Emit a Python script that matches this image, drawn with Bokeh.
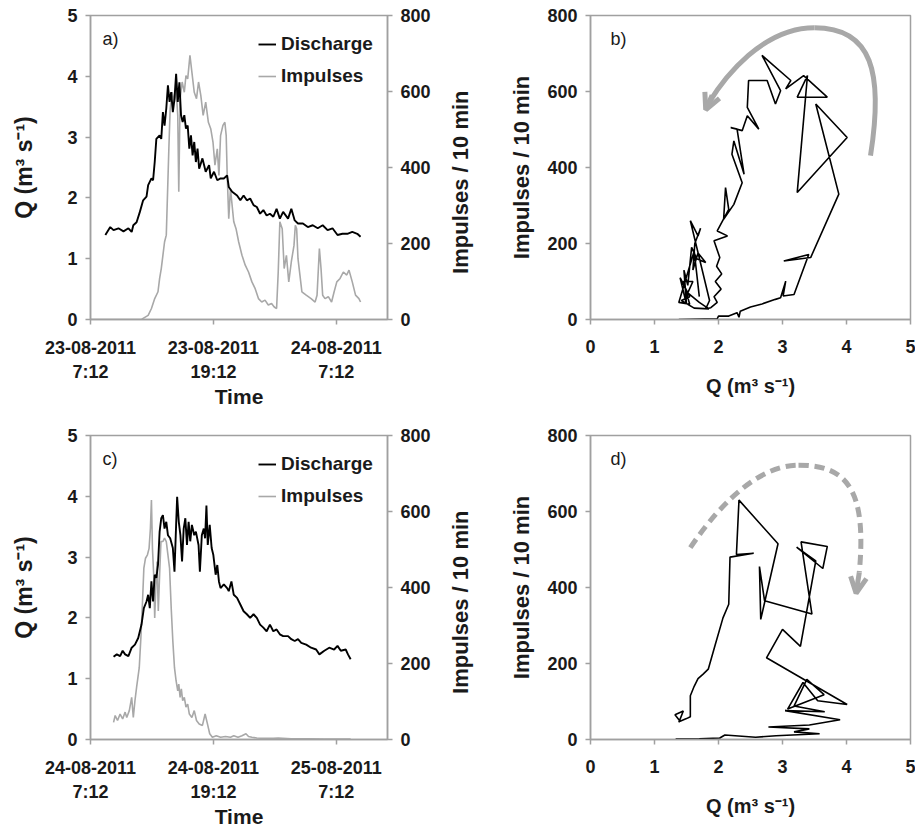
import math
from bokeh.plotting import figure
from bokeh.models import (Range1d, LinearAxis, FixedTicker, Legend, LegendItem,
                          Label, Arrow, OpenHead)
from bokeh.layouts import column, row
from bokeh.embed import file_html
from bokeh.resources import INLINE

# ---------------- data ----------------
# Panel a: hours after 23-08-2011 7:12
a_q_h = [1.45, 1.93, 2.25, 2.73, 3.22, 3.70, 4.02, 4.18, 4.50, 4.82, 5.14, 5.47, 5.63, 5.95, 6.11, 6.27,
         6.43, 6.75, 6.91, 7.07, 7.23, 7.40, 7.56, 7.72, 7.88, 8.04, 8.20, 8.36, 8.52, 8.68, 8.84, 9.00,
         9.16, 9.32, 9.49, 9.65, 9.81, 9.97, 10.13, 10.29, 10.45, 10.61, 10.93, 11.25, 11.58, 11.74,
         12.06, 12.38, 12.70, 13.02, 13.34, 13.50, 13.83, 14.31, 14.63, 14.95, 15.27, 15.59, 15.92,
         16.24, 16.56, 16.88, 17.20, 17.52, 17.85, 18.17, 18.49, 18.81, 19.29, 19.61, 19.94, 20.26,
         20.74, 21.22, 21.70, 22.19, 22.67, 23.15, 23.63, 24.12, 24.60, 25.08, 25.56, 26.05, 26.37]
a_q = [1.39, 1.52, 1.47, 1.50, 1.45, 1.50, 1.44, 1.55, 1.60, 1.77, 1.96, 2.02, 2.21, 2.32, 2.29, 2.59,
       2.97, 3.03, 2.97, 3.41, 3.19, 3.47, 3.85, 3.58, 3.74, 3.41, 3.63, 4.04, 3.58, 3.90, 3.36, 3.25,
       3.36, 3.14, 3.19, 2.81, 3.03, 2.70, 2.92, 2.59, 2.81, 2.48, 2.65, 2.43, 2.54, 2.32,
       2.43, 2.29, 2.32, 2.32, 2.37, 2.18, 2.10, 2.04, 1.96, 2.04, 1.96, 1.99, 1.88,
       1.85, 1.74, 1.80, 1.71, 1.74, 1.69, 1.82, 1.66, 1.77, 1.66, 1.82, 1.63, 1.58,
       1.58, 1.52, 1.55, 1.50, 1.55, 1.47, 1.50, 1.39, 1.41, 1.41, 1.44, 1.41, 1.36]
a_i_h = [0.0, 5.0, 5.14, 5.63, 5.95, 6.27, 6.59, 6.75, 6.91, 7.07, 7.23, 7.40, 7.65, 7.78, 7.97, 8.20,
         8.36, 8.52, 8.62, 8.75, 8.95, 9.16, 9.32, 9.49, 9.71, 9.90, 10.13, 10.35, 10.55, 10.77, 11.00,
         11.25, 11.51, 11.74, 11.96, 12.15, 12.38, 12.54, 12.70, 12.93, 13.12, 13.25, 13.34, 13.50,
         13.67, 13.83, 13.99, 14.21, 14.47, 14.79, 15.11, 15.43, 15.76, 16.08, 16.40, 16.72, 17.04,
         17.36, 17.68, 17.94, 18.17, 18.33, 18.49, 18.72, 18.91, 19.13, 19.36, 19.61, 19.87, 20.00,
         20.13, 20.26, 20.45, 20.64, 21.06, 21.54, 21.93, 22.12, 22.35, 22.51, 22.67, 22.90, 23.22,
         23.54, 23.79, 24.05, 24.37, 24.69, 25.02, 25.24, 25.56, 25.88, 26.21, 26.37]
a_imp = [0, 0, 3, 11, 29, 55, 73, 108, 134, 169, 204, 222, 449, 555, 598, 572,
         607, 537, 336, 581, 625, 598, 642, 633, 695, 651, 598, 581, 625, 590, 537,
         572, 519, 502, 467, 406, 449, 379, 484, 511, 519, 484, 388, 265,
         344, 300, 257, 239, 204, 169, 143, 125, 99, 81, 55, 46, 51,
         38, 42, 33, 29, 125, 257, 239, 134, 169, 99, 152, 195, 248,
         239, 160, 117, 73, 64, 55, 46, 64, 187, 134, 64, 55, 60,
         46, 73, 99, 108, 125, 117, 130, 99, 64, 55, 46]

# Panel c: hours after 24-08-2011 7:12
c_q_h = [2.25, 2.57, 2.89, 3.14, 3.38, 3.70, 4.02, 4.34, 4.66, 4.98, 5.21, 5.47, 5.63, 5.79, 5.95, 6.11,
         6.27, 6.43, 6.59, 6.75, 6.91, 7.07, 7.23, 7.40, 7.56, 7.78, 8.04, 8.20, 8.36, 8.46, 8.62, 8.78,
         8.94, 9.10, 9.26, 9.42, 9.58, 9.74, 9.90, 10.13, 10.29, 10.55, 10.68, 10.87, 11.06, 11.19,
         11.32, 11.45, 11.64, 11.83, 11.99, 12.22, 12.38, 12.54, 12.70, 13.02, 13.34, 13.50, 13.76,
         13.99, 14.31, 14.63, 14.95, 15.27, 15.59, 15.92, 16.24, 16.56, 16.88, 17.20, 17.52, 17.85,
         18.17, 18.49, 18.81, 19.29, 19.61, 19.94, 20.26, 20.58, 21.06, 21.54, 22.03, 22.35, 22.83,
         23.31, 23.79, 24.12, 24.44, 24.92, 25.14, 25.40]
c_q = [1.36, 1.40, 1.37, 1.46, 1.40, 1.37, 1.51, 1.56, 1.67, 1.89, 2.16, 2.27, 2.38, 2.16, 2.60, 2.27,
       2.71, 2.66, 2.87, 3.42, 3.64, 3.69, 3.47, 3.58, 3.36, 3.31, 3.15, 2.76, 3.53, 3.99, 3.58, 3.36,
       2.93, 3.47, 3.64, 3.20, 3.58, 3.26, 3.53, 3.36, 3.42, 3.20, 2.76, 3.36, 3.47, 3.31,
       3.85, 3.20, 3.53, 3.15, 3.04, 2.71, 2.87, 2.60, 2.49, 2.55, 2.49, 2.44, 2.60,
       2.38, 2.33, 2.22, 2.11, 2.06, 2.00, 2.06, 2.00, 1.89, 1.84, 1.78, 1.89, 1.78,
       1.81, 1.73, 1.70, 1.70, 1.65, 1.62, 1.65, 1.59, 1.56, 1.51, 1.48, 1.40, 1.46,
       1.51, 1.48, 1.54, 1.46, 1.48, 1.40, 1.32]
c_i_h = [2.25, 2.41, 2.64, 2.89, 3.14, 3.38, 3.54, 3.79, 4.02, 4.18, 4.34, 4.50, 4.76, 4.92, 5.08, 5.21,
         5.37, 5.56, 5.72, 5.85, 5.95, 6.05, 6.17, 6.27, 6.37, 6.50, 6.62, 6.75, 6.88, 7.07, 7.23, 7.40,
         7.56, 7.72, 7.88, 8.04, 8.20, 8.36, 8.52, 8.62, 8.75, 8.87, 9.00, 9.16, 9.32, 9.49, 9.65, 9.90,
         10.13, 10.35, 10.61, 10.93, 11.19, 11.42, 11.64, 11.90, 12.28, 12.70, 13.18, 13.67, 13.99,
         14.40, 14.79, 15.18, 15.43, 15.76, 16.24, 17.04, 17.85, 18.33, 19.61, 21.22, 22.83, 25.40]
c_imp = [45, 63, 50, 67, 54, 72, 58, 76, 111, 58, 102, 137, 189, 268, 364, 451,
         477, 486, 503, 556, 630, 503, 434, 320, 399, 468, 338, 434, 521, 521, 530, 521,
         486, 451, 346, 259, 189, 154, 128, 146, 111, 133, 102, 111, 85, 93, 67, 58,
         76, 50, 41, 37, 67, 41, 15, 6, 10, 6, 8, 6, 10,
         6, 10, 15, 8, 6, 4, 3, 3, 4, 2, 2, 1, 1]

# Panel b: hysteresis 23-24 Aug (Q, impulses)
b_q = [1.38, 1.98, 2.00, 2.16, 2.29, 2.32, 2.34, 2.50, 2.68, 2.89, 2.97, 3.05, 3.01, 3.18, 3.41, 3.02,
       3.44, 3.88, 3.52, 4.01, 3.23, 3.39, 3.23, 3.70, 3.33, 3.05, 3.13, 2.68, 2.97, 2.89, 2.76, 2.47,
       2.45, 2.63, 2.45, 2.37, 2.19, 2.29, 2.40, 2.24, 2.21, 2.37, 2.24, 2.08, 2.11, 2.16, 1.98, 2.14,
       1.93, 2.02, 1.97, 2.05, 1.95, 2.04, 1.93, 1.98, 1.88, 1.80, 1.86, 1.56, 1.68, 1.72, 1.63, 1.60,
       1.68, 1.80, 1.66, 1.58, 1.52, 1.46, 1.50, 1.40, 1.55, 1.42, 1.62, 1.85, 1.70, 1.52, 1.60, 1.45,
       1.55, 1.38, 1.62, 1.70]
b_imp = [0, 2, 9, 9, 18, 6, 22, 33, 41, 53, 57, 101, 62, 66, 171, 154,
         163, 330, 567, 479, 334, 642, 585, 585, 642, 607, 629, 695, 602, 567, 629, 629,
         558, 501, 536, 497, 505, 501, 382, 470, 435, 360, 303, 264, 347, 290, 233, 220,
         207, 163, 140, 120, 100, 80, 60, 45, 31, 28, 50, 260, 220, 240, 200, 130,
         175, 150, 160, 190, 90, 130, 40, 110, 60, 50, 30, 28, 45, 70, 100, 100,
         40, 45, 180, 60]

# Panel d: hysteresis 24-25 Aug (Q, impulses)
d_q = [1.38, 1.45, 1.32, 1.40, 1.50, 1.56, 1.56, 1.62, 1.68, 1.76, 1.84, 1.95, 2.07, 2.16, 2.18, 2.55,
       2.28, 2.32, 2.93, 2.66, 2.64, 2.72, 3.46, 3.29, 3.70, 3.63, 3.22, 3.52, 3.28, 3.00, 2.75, 4.01,
       3.55, 3.32, 3.08, 3.65, 3.38, 3.18, 3.66, 3.04, 3.90, 3.42, 2.78, 3.42, 3.18, 3.58, 2.90, 2.58,
       2.10, 2.02, 1.70, 1.33]
d_imp = [45, 75, 65, 48, 55, 60, 115, 140, 160, 172, 185, 250, 320, 356, 480, 490,
         487, 630, 515, 316, 455, 365, 330, 520, 508, 450, 506, 470, 245, 290, 215, 92,
         102, 150, 80, 118, 158, 88, 73, 76, 52, 38, 33, 28, 20, 15, 10, 6,
         12, 4, 2, 1]

# hysteresis direction arrows (two cubic segments each)
arrow_b_x0 = [4.375, 3.5]
arrow_b_y0 = [431, 768]
arrow_b_cx0 = [4.58, 2.7]
arrow_b_cy0 = [650, 768]
arrow_b_cx1 = [4.4, 2.1]
arrow_b_cy1 = [768, 640]
arrow_b_x1 = [3.5, 1.84]
arrow_b_y1 = [768, 568]
arrow_b_head = [1.9, 590, 1.8, 552]

arrow_d_x0 = [1.56, 3.25]
arrow_d_y0 = [505, 722]
arrow_d_cx0 = [2.1, 4.0]
arrow_d_cy0 = [640, 722]
arrow_d_cx1 = [2.7, 4.32]
arrow_d_cy1 = [722, 660]
arrow_d_x1 = [3.25, 4.2]
arrow_d_y1 = [722, 440]
arrow_d_head = [4.2, 440, 4.15, 385]

time_ticks = [0, 12, 24]
labels_a = ["23-08-2011\n7:12", "23-08-2011\n19:12", "24-08-2011\n7:12"]
labels_c = ["24-08-2011\n7:12", "24-08-2011\n19:12", "25-08-2011\n7:12"]
q_ticks = [0, 1, 2, 3, 4, 5]
imp_ticks = [0, 200, 400, 600, 800]
imp_title_anchor = 120   # right-axis title starts here and reads upward

# ---------------- styling ----------------
FONT = "Liberation Sans"
AXIS_GRAY = "#a0a0a0"
SERIES_GRAY = "#a8a8a8"
TXT = "#1a1a1a"
Q_LABEL = "Q (m\u00b3 s\u207b\u00b9)"
IMP_LABEL = "Impulses / 10 min"


def style_axis(ax, ticks, title, title_size, title_style, standoff, label_standoff):
    ax.ticker = FixedTicker(ticks=ticks)
    ax.axis_line_color = AXIS_GRAY
    ax.axis_line_width = 1.5
    ax.major_tick_line_color = AXIS_GRAY
    ax.major_tick_line_width = 1.5
    ax.major_tick_in = 0
    ax.major_tick_out = 5
    ax.minor_tick_line_color = None
    ax.major_label_text_font = FONT
    ax.major_label_text_font_size = "18px"
    ax.major_label_text_font_style = "bold"
    ax.major_label_text_color = TXT
    ax.major_label_standoff = label_standoff
    ax.axis_label = title
    ax.axis_label_text_font = FONT
    ax.axis_label_text_font_size = title_size
    ax.axis_label_text_font_style = title_style
    ax.axis_label_text_color = TXT
    ax.axis_label_standoff = standoff


def base_fig(width, height, left, right, bottom, xr, yr):
    p = figure(width=width, height=height, x_range=xr, y_range=yr,
               output_backend="svg", toolbar_location=None, tools="",
               min_border_left=left, min_border_right=right,
               min_border_top=15, min_border_bottom=bottom,
               x_axis_location=None, y_axis_location=None)
    p.grid.visible = False
    p.outline_line_color = AXIS_GRAY
    p.outline_line_width = 1.5
    p.background_fill_color = "white"
    p.border_fill_color = "white"
    return p


def time_panel(height, bottom, qh, q, ih, imp, tick_labels, letter):
    p = base_fig(488, height, 90, 96, bottom, Range1d(0, 29), Range1d(0, 5))
    p.extra_y_ranges = {"imp": Range1d(0, 800)}
    xa = LinearAxis()
    style_axis(xa, time_ticks, "Time", "21px", "bold", 0, 13)
    xa.major_label_overrides = {t: l for t, l in zip(time_ticks, tick_labels)}
    p.add_layout(xa, "below")
    ya = LinearAxis()
    style_axis(ya, q_ticks, Q_LABEL, "23px", "bold", 27, 8)
    p.add_layout(ya, "left")
    yr = LinearAxis(y_range_name="imp")
    style_axis(yr, imp_ticks, None, "21px", "bold", 0, 8)
    p.add_layout(yr, "right")
    # right-axis title reading bottom-to-top (as a rotated single tick label)
    yt = LinearAxis(y_range_name="imp")
    style_axis(yt, [imp_title_anchor], None, "21px", "bold", 0, 27)
    yt.major_label_overrides = {imp_title_anchor: IMP_LABEL}
    yt.major_label_orientation = math.pi / 2
    yt.major_label_text_font_size = "22px"
    yt.axis_line_color = None
    yt.major_tick_line_color = None
    yt.major_tick_out = 0
    p.add_layout(yt, "right")

    r_imp = p.line(ih, imp, y_range_name="imp", line_color=SERIES_GRAY, line_width=1.6)
    r_q = p.line(qh, q, line_color="black", line_width=1.9)

    leg = Legend(items=[LegendItem(label="Discharge", renderers=[r_q]),
                        LegendItem(label="Impulses", renderers=[r_imp])],
                 location=(168, 232), border_line_color=None, background_fill_alpha=0,
                 padding=0, margin=0, glyph_width=18, glyph_height=20, label_height=20,
                 spacing=10, label_standoff=5, label_text_font=FONT,
                 label_text_font_size="19px", label_text_font_style="bold",
                 label_text_color=TXT)
    p.add_layout(leg)
    p.add_layout(Label(x=12, y=281, x_units="screen", y_units="screen", text=letter,
                       text_font=FONT, text_font_size="18px", text_color=TXT,
                       text_baseline="middle"))
    return p


def loop_panel(height, bottom, q, imp, ax0, ay0, acx0, acy0, acx1, acy1, ax1, ay1, head,
               dash, letter):
    p = base_fig(427, height, 102, 5, bottom, Range1d(0, 5), Range1d(0, 800))
    xa = LinearAxis()
    style_axis(xa, q_ticks, Q_LABEL, "20px", "bold", 19, 15)
    p.add_layout(xa, "below")
    ya = LinearAxis()
    style_axis(ya, imp_ticks, IMP_LABEL, "22px", "bold", 10, 8)
    p.add_layout(ya, "left")

    p.bezier(x0=ax0, y0=ay0, x1=ax1, y1=ay1, cx0=acx0, cy0=acy0, cx1=acx1, cy1=acy1,
             line_color=SERIES_GRAY, line_width=5, line_dash=dash, line_cap="butt")
    p.add_layout(Arrow(end=OpenHead(size=16, line_color=SERIES_GRAY, line_width=5),
                       x_start=head[0], y_start=head[1], x_end=head[2], y_end=head[3],
                       line_color=SERIES_GRAY, line_width=5))
    p.line(q, imp, line_color="black", line_width=1.6)
    p.add_layout(Label(x=20, y=281, x_units="screen", y_units="screen", text=letter,
                       text_font=FONT, text_font_size="18px", text_color=TXT,
                       text_baseline="middle"))
    return p


pa = time_panel(420, 101, a_q_h, a_q, a_i_h, a_imp, labels_a, "a)")
pb = loop_panel(420, 101, b_q, b_imp, arrow_b_x0, arrow_b_y0, arrow_b_cx0, arrow_b_cy0,
                arrow_b_cx1, arrow_b_cy1, arrow_b_x1, arrow_b_y1, arrow_b_head, "solid", "b)")
pc = time_panel(410, 90, c_q_h, c_q, c_i_h, c_imp, labels_c, "c)")
pd = loop_panel(410, 90, d_q, d_imp, arrow_d_x0, arrow_d_y0, arrow_d_cx0, arrow_d_cy0,
                arrow_d_cx1, arrow_d_cy1, arrow_d_x1, arrow_d_y1, arrow_d_head, "10 6", "d)")

layout = column(row(pa, pb, spacing=0), row(pc, pd, spacing=0), spacing=0)
open("out.html", "w").write(file_html(layout, INLINE))
